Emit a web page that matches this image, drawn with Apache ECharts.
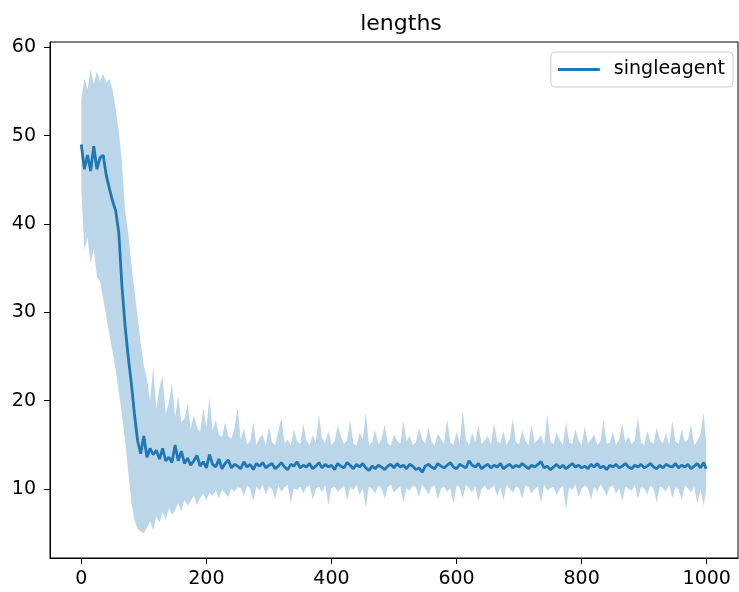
<!DOCTYPE html>
<html>
<head>
<meta charset="utf-8">
<title>lengths</title>
<script src="https://cdn.jsdelivr.net/npm/echarts@6/dist/echarts.min.js"></script>
<style>
  html, body { margin: 0; padding: 0; background: #fff; }
  #chart { width: 739px; height: 592px; }
</style>
</head>
<body>
<div id="chart"></div>
<script>
// episode step of each sample (every 5th episode, last one is 999)
const stepSize = 5;
const lastStep = 999;

// mean episode length
const meanLen = [
  49.0, 46.2, 47.8, 46.0, 48.8, 46.2, 47.5, 47.8, 45.5, 44.0, 42.6,
  41.5, 39.0, 33.0, 28.5, 25.0, 22.0, 18.5, 15.5, 14.0, 16.0,
  13.6, 14.6, 13.9, 14.4, 13.4, 14.6, 13.2, 13.6, 13.0, 15.0,
  13.2, 14.3, 12.9, 13.5, 12.7, 13.2, 13.8, 12.6, 13.1, 12.4,
  13.9, 12.8, 12.5, 13.4, 12.3, 12.9, 13.3, 12.4, 12.8, 12.6,
  12.3, 13.1, 12.5, 12.8, 12.2, 12.9, 12.6, 13.0, 12.4, 12.7,
  12.9, 12.3, 12.6, 13.0, 12.5, 12.2, 12.8, 12.6, 13.1, 12.4,
  12.7, 12.5, 12.9, 12.3, 12.6, 13.0, 12.4, 12.8, 12.5, 12.7,
  12.2, 12.9, 12.6, 12.4, 13.0, 12.7, 12.3, 12.8, 12.5, 12.9,
  12.4, 12.1, 12.6, 12.3, 12.7, 12.5, 12.2, 12.6, 12.8, 12.4,
  12.9, 12.5, 12.7, 12.3, 12.8, 12.6, 12.2, 12.4, 11.9, 12.6,
  12.8, 12.5, 12.3, 12.9, 12.6, 12.4, 12.7, 13.0, 12.5, 12.3,
  12.8, 12.6, 12.4, 13.2, 12.7, 12.5, 12.9, 12.3, 12.6, 12.8,
  12.4, 12.7, 12.5, 12.9, 12.3, 12.6, 12.8, 12.4, 12.7, 12.5,
  12.9, 12.6, 12.3, 12.7, 12.5, 12.8, 13.1, 12.4, 12.6, 12.2,
  12.5, 12.8, 12.4, 12.7, 12.3, 12.6, 12.9, 12.5, 12.7, 12.4,
  12.6, 12.3, 12.8, 12.5, 12.9, 12.4, 12.6, 12.2, 12.7, 12.5,
  12.8, 12.4, 12.6, 12.9, 12.5, 12.3, 12.7, 12.5, 12.8, 12.4,
  12.6, 12.9, 12.5, 12.3, 12.7, 12.4, 12.8, 12.6, 12.5, 12.9,
  12.4, 12.7, 12.5, 12.8, 12.3, 12.6, 12.9, 12.4, 13.0,
  12.3
];

// upper edge of the shaded band
const upperLen = [
  54.0, 56.5, 55.2, 57.5, 55.8, 57.3, 56.2, 57.0, 56.0, 56.4, 55.2,
  53.0, 50.5, 47.0, 41.5, 39.0, 35.5, 32.5, 29.5, 26.5, 24.0,
  22.5, 20.0, 23.8, 19.0, 21.5, 22.8, 18.5, 19.8, 22.0, 18.2,
  20.5, 17.6, 18.0, 19.6, 16.8, 18.4, 17.0, 16.5, 19.2, 17.0,
  20.4, 16.6, 17.8, 16.2, 15.9, 17.6, 16.0, 15.7, 16.9, 19.2,
  15.6, 16.9, 15.1, 15.4, 17.6, 15.0, 15.8, 16.2, 14.9, 17.1,
  15.3, 15.0, 16.5, 18.1, 15.2, 15.6, 14.9, 16.8, 15.4, 15.1,
  17.4, 15.5, 15.0, 16.1, 15.3, 18.4, 15.7, 15.2, 16.6, 15.0,
  15.4, 17.2, 16.0, 15.1, 15.5, 17.8, 15.2, 14.9, 16.4, 15.6,
  18.6, 15.0, 15.3, 16.7, 15.1, 15.6, 17.3, 15.2, 14.9, 16.2,
  15.5, 15.1, 17.7, 15.4, 16.0, 15.0, 15.3, 16.9, 15.6, 15.2,
  17.0, 15.4, 14.9, 16.3, 15.7, 15.1, 17.9, 15.3, 15.0, 16.5,
  15.2, 18.9, 15.6, 15.0, 16.4, 15.3, 17.2, 15.1, 15.5, 16.0,
  15.0, 17.5, 15.4, 15.2, 16.6, 15.0, 15.7, 18.0, 15.3, 15.1,
  16.7, 15.5, 15.0, 17.3, 15.2, 15.6, 16.1, 15.0, 18.5, 15.4,
  15.1, 16.4, 15.6, 15.0, 17.6, 15.3, 15.1, 16.8, 15.5, 15.0,
  17.1, 15.2, 15.6, 16.2, 15.0, 15.4, 17.8, 15.1, 15.3, 16.5,
  15.0, 15.6, 17.4, 15.2, 16.0, 15.1, 15.5, 18.2, 15.3, 15.0,
  16.6, 15.4, 15.1, 17.0, 15.6, 15.2, 16.3, 15.0, 17.7, 15.4,
  15.1, 16.8, 15.3, 15.6, 17.3, 15.0, 15.4, 16.2, 18.7,
  15.4
];

// lower edge of the shaded band
const lowerLen = [
  44.0, 37.0, 38.5, 35.5, 37.2, 34.0, 33.5, 31.5, 29.5, 27.5, 25.5,
  23.5, 21.0, 18.5, 15.5, 12.0, 8.5, 6.5, 5.5, 5.2, 5.0,
  5.6, 6.4, 5.3, 6.9, 6.2, 7.4, 6.5, 7.8, 7.1, 7.6,
  8.4, 7.5, 8.8, 8.1, 8.6, 9.3, 8.2, 9.0, 9.5, 8.7,
  9.6, 9.2, 9.9, 8.9, 10.0, 9.5, 9.1, 10.1, 9.7, 10.2,
  10.1, 9.2, 10.4, 10.0, 8.6, 10.3, 9.8, 10.5, 9.4, 10.2,
  10.0, 8.9, 10.4, 9.7, 10.2, 10.5, 8.4, 10.1, 9.9, 10.3,
  9.5, 10.2, 10.4, 8.8, 10.0, 10.3, 9.6, 10.5, 8.2, 10.1,
  10.3, 9.7, 10.0, 10.4, 8.7, 10.2, 9.9, 10.5, 9.3, 10.1,
  7.9, 10.3, 10.0, 9.5, 10.4, 10.1, 8.9, 10.2, 10.5, 9.6,
  10.0, 10.3, 8.5, 10.1, 9.8, 10.4, 10.2, 9.1, 10.5, 10.0,
  9.4, 10.2, 10.4, 8.8, 10.0, 10.3, 9.7, 10.1, 8.3, 10.4,
  10.2, 9.0, 10.5, 10.1, 9.6, 10.3, 8.6, 10.0, 10.4, 9.8,
  10.1, 10.4, 9.2, 10.2, 8.7, 10.5, 10.0, 9.6, 10.3, 10.1,
  8.9, 10.4, 10.2, 9.5, 10.0, 10.3, 8.4, 10.5, 9.8, 10.1,
  10.3, 9.3, 10.0, 10.4, 7.7, 10.2, 9.9, 10.5, 9.1, 10.0,
  10.4, 10.1, 8.8, 10.3, 9.7, 10.5, 10.0, 9.2, 10.2, 10.4,
  9.5, 10.1, 8.6, 10.3, 10.0, 9.8, 10.5, 8.9, 10.2, 10.1,
  9.4, 10.4, 10.0, 8.5, 10.3, 10.1, 9.7, 10.5, 9.0, 10.2,
  10.0, 8.7, 10.4, 10.1, 9.6, 10.3, 8.3, 10.0, 8.1,
  9.8
];

const xTicks = [0, 200, 400, 600, 800, 1000];
const yTicks = [10, 20, 30, 40, 50, 60];

const steps = meanLen.map((_, i) => Math.min(i * stepSize, lastStep));

// shaded band: one polygon, upper edge left->right then lower edge right->left
function renderBand(params, api) {
  if (params.dataIndex !== 0) return null;
  const pts = [];
  for (let i = 0; i < steps.length; i++) pts.push(api.coord([steps[i], upperLen[i]]));
  for (let i = steps.length - 1; i >= 0; i--) pts.push(api.coord([steps[i], lowerLen[i]]));
  return {
    type: 'polygon',
    shape: { points: pts },
    style: { fill: 'rgba(31,119,180,0.3)', stroke: null },
    silent: true,
  };
}

function generateGraph() {
  let chartDom = document.getElementById('chart');
  let myChart = echarts.init(chartDom, null, { renderer: 'canvas' });

  const font = 'DejaVu Sans';
  const blue = '#1f77b4';

  let option = {
    animation: false,
    textStyle: { fontFamily: font, color: '#000' },
    title: {
      text: 'lengths',
      left: 396,
      textAlign: 'center',
      top: 8,
      textStyle: { fontFamily: font, fontSize: 22, fontWeight: 'normal', color: '#000' },
    },
    legend: {
      data: [{ name: 'singleagent', icon: 'rect' }],
      right: 6,
      top: 52,
      itemWidth: 42,
      itemHeight: 3,
      itemGap: 0,
      padding: [8, 8, 8, 7],
      borderColor: '#cccccc',
      borderWidth: 1,
      borderRadius: 4,
      backgroundColor: 'rgba(255,255,255,0.8)',
      textStyle: { fontFamily: font, fontSize: 19, color: '#000', padding: [0, 0, 0, 9] },
    },
    grid: {
      left: 50,
      right: 1,
      top: 42,
      bottom: 34,
      containLabel: false,
      outerBoundsMode: 'none',
      show: true,
      borderColor: '#000',
      borderWidth: 1,
      backgroundColor: 'transparent',
    },
    xAxis: {
      type: 'value',
      min: -50,
      max: 1050,
      splitLine: { show: false },
      axisLine: { show: true, onZero: false, lineStyle: { color: '#000', width: 1 } },
      axisTick: { show: true, inside: false, length: 6, customValues: xTicks, lineStyle: { color: '#000' } },
      axisLabel: {
        customValues: xTicks,
        formatter: (v) => String(v),
        fontFamily: font, fontSize: 19, color: '#000', margin: 12,
      },
    },
    yAxis: {
      type: 'value',
      min: 2.2,
      max: 60.6,
      splitLine: { show: false },
      axisLine: { show: true, onZero: false, lineStyle: { color: '#000', width: 1 } },
      axisTick: { show: true, inside: false, length: 6, customValues: yTicks, lineStyle: { color: '#000' } },
      axisLabel: {
        customValues: yTicks,
        formatter: (v) => String(v),
        fontFamily: font, fontSize: 19, color: '#000', margin: 14,
      },
    },
    series: [
      {
        name: 'band',
        type: 'custom',
        renderItem: renderBand,
        silent: true,
        encode: { x: 0, y: [1, 2] },
        data: steps.map((s, i) => [s, lowerLen[i], upperLen[i]]),
        z: 1,
      },
      {
        name: 'singleagent',
        type: 'line',
        symbol: 'none',
        color: blue,
        lineStyle: { color: blue, width: 2.8 },
        data: steps.map((s, i) => [s, meanLen[i]]),
        z: 2,
      },
    ],
  };

  myChart.setOption(option);
}

generateGraph();
</script>
</body>
</html>
